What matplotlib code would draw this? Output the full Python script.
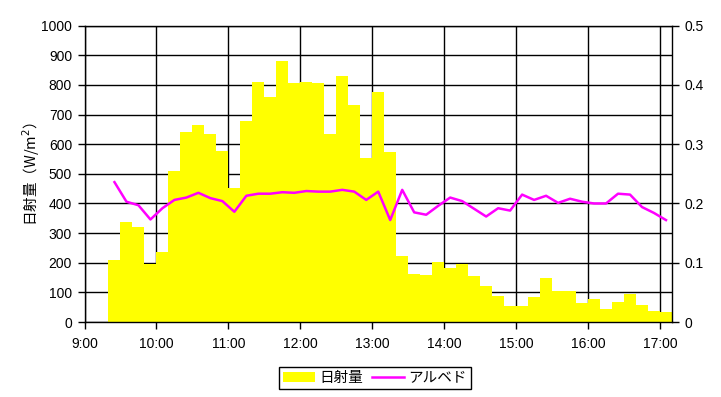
import matplotlib
matplotlib.use("Agg")
import matplotlib.pyplot as plt
from matplotlib.patches import Patch
from matplotlib.lines import Line2D

plt.rcParams['font.family'] = ['Liberation Sans', 'Noto Sans CJK JP', 'DejaVu Sans']

# 10-minute interval start times
times = ["9:20", "9:30", "9:40", "9:50",
         "10:00", "10:10", "10:20", "10:30", "10:40", "10:50",
         "11:00", "11:10", "11:20", "11:30", "11:40", "11:50",
         "12:00", "12:10", "12:20", "12:30", "12:40", "12:50",
         "13:00", "13:10", "13:20", "13:30", "13:40", "13:50",
         "14:00", "14:10", "14:20", "14:30", "14:40", "14:50",
         "15:00", "15:10", "15:20", "15:30", "15:40", "15:50",
         "16:00", "16:10", "16:20", "16:30", "16:40", "16:50",
         "17:00"]

# solar radiation (W/m2)
radiation = [209, 337, 321, 196,
             236, 510, 641, 665, 634, 577,
             452, 678, 810, 759, 881, 808,
             810, 806, 634, 830, 732, 554,
             776, 574, 223, 162, 159, 202,
             182, 196, 155, 121, 88, 54,
             54, 84, 148, 105, 105, 64,
             78, 44, 67, 94, 57, 37,
             34]

# albedo
albedo = [0.236, 0.203, 0.197, 0.173,
          0.192, 0.206, 0.210, 0.218, 0.209, 0.204,
          0.186, 0.213, 0.2165, 0.2165, 0.219, 0.218,
          0.221, 0.220, 0.220, 0.223, 0.220, 0.206,
          0.220, 0.172, 0.223, 0.185, 0.181, 0.196,
          0.210, 0.204, 0.191, 0.178, 0.192, 0.188,
          0.215, 0.206, 0.213, 0.201, 0.208, 0.203,
          0.200, 0.200, 0.2165, 0.215, 0.194, 0.184,
          0.172]

hour_ticks = [9, 10, 11, 12, 13, 14, 15, 16, 17]
hour_labels = ["9:00", "10:00", "11:00", "12:00", "13:00", "14:00", "15:00", "16:00", "17:00"]


def to_hours(s):
    h, m = s.split(":")
    return int(h) + int(m) / 60.0


starts = [to_hours(t) for t in times]
step = 10 / 60.0
centers = [s + step / 2 for s in starts]

fig = plt.figure(figsize=(7.21, 3.97), dpi=100)
ax = fig.add_axes([0.1172, 0.1889, 0.8148, 0.7464])

ax.bar(starts, radiation, width=step, align='edge', color='#FFFF00',
       edgecolor='none', linewidth=0, zorder=2)

ax.set_xlim(9, 17 + 10 / 60.0)
ax.set_ylim(0, 1000)
ax.set_yticks(range(0, 1001, 100))
ax.set_xticks(hour_ticks)
ax.set_xticklabels(hour_labels)
ax.grid(True, color='black', linewidth=1.0, zorder=1)
ax.set_axisbelow(True)
for sp in ax.spines.values():
    sp.set_color('black')
    sp.set_linewidth(1.0)
    sp.set_zorder(5)
ax.tick_params(axis='both', direction='out', length=5, width=1, labelsize=10,
               colors='black', pad=4)
ax.tick_params(axis='x', pad=6)
ax.set_ylabel("日射量（W/m$^2$）", fontsize=10.5, family=['Noto Sans CJK JP', 'DejaVu Sans'])
ax.yaxis.set_label_coords(-0.072, 0.5)

ax2 = ax.twinx()
ax2.plot(centers, albedo, color='#FF00FF', linewidth=1.8, zorder=4)
ax2.set_ylim(0, 0.5)
ax2.set_yticks([0, 0.1, 0.2, 0.3, 0.4, 0.5])
ax2.set_yticklabels(["0", "0.1", "0.2", "0.3", "0.4", "0.5"])
ax2.tick_params(axis='y', direction='out', length=5, width=1, labelsize=10, pad=4)
for sp in ax2.spines.values():
    sp.set_visible(False)

handles = [Patch(facecolor='#FFFF00', edgecolor='none'),
           Line2D([0], [0], color='#FF00FF', linewidth=1.8)]
leg = fig.legend(handles, ["日射量", "アルベド"], loc='center',
                 bbox_to_anchor=(0.52, 0.048), ncol=2, frameon=True,
                 fancybox=False, edgecolor='black', framealpha=1,
                 prop={'family': ['Noto Sans CJK JP', 'DejaVu Sans'], 'size': 10.5},
                 handlelength=2.2, handletextpad=0.3, columnspacing=0.6,
                 borderpad=0.3, borderaxespad=0)
leg.get_frame().set_linewidth(1.0)

fig.savefig("out.png", dpi=100)
